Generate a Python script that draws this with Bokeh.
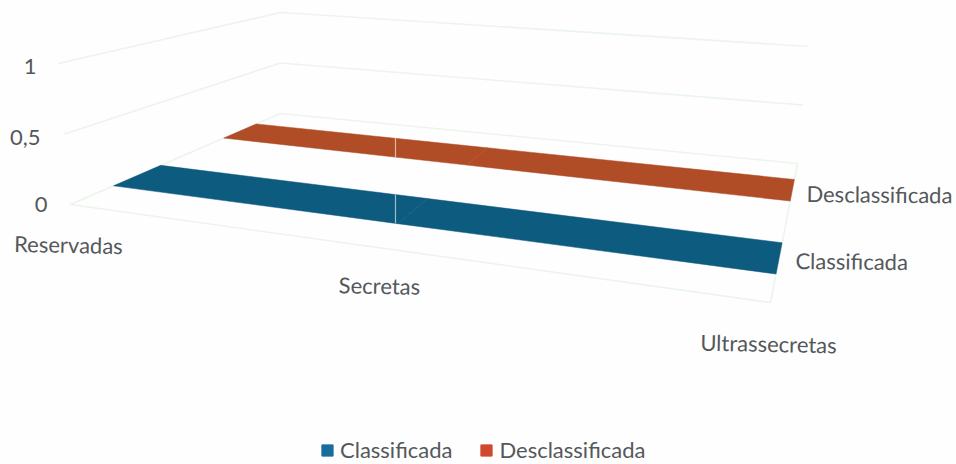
from bokeh.plotting import figure
from bokeh.models import Range1d, Legend, LegendItem
from bokeh.core.properties import value
from bokeh.embed import file_html
from bokeh.resources import INLINE

categories = ["Reservadas", "Secretas", "Ultrassecretas"]
series_names = ["Classificada", "Desclassificada"]
classificada = [0, 0, 0]
desclassificada = [0, 0, 0]
value_ticks = [0, 0.5, 1]
value_tick_labels = ["0", "0,5", "1"]

FONT = value("Lato")
SIZE = "22px"
TXT = "#55585b"
GRID = "#ebf5eb"

# 3D frame -> page pixels (u along categories, v in depth, z height)
C = {(0,0,0):(70,204),(1,0,0):(770,302),(0,1,0):(280,113),(1,1,0):(797,163),
     (0,0,1):(58,63),(1,0,1):(758,170),(0,1,1):(280,12),(1,1,1):(808,46)}
def proj(u, v, z):
    x = y = 0.0
    for (a,b,c),(px,py) in C.items():
        w = (u if a else 1-u)*(v if b else 1-v)*(z if c else 1-z)
        x += w*px; y += w*py
    return x, y
def cat_u(i):
    t = i/(len(categories)-1)
    return t/(t+(1-t)*1.33)

p = figure(width=956, height=464, output_backend="svg", toolbar_location=None,
           x_range=Range1d(0, 956), y_range=Range1d(464, 0),
           min_border=0, outline_line_color=None, background_fill_color="#fefefe",
           border_fill_color="#fefefe")
p.xaxis.visible = False
p.yaxis.visible = False
p.grid.visible = False

# walls and floor grid
for z in value_ticks:
    pts = [proj(0,0,z), proj(0,1,z), proj(1,1,z)]
    p.line([a for a,_ in pts], [b for _,b in pts], line_color=GRID, line_width=1.6)
pts = [proj(0,0,0), proj(1,0,0), proj(1,1,0)]
p.line([a for a,_ in pts], [b for _,b in pts], line_color=GRID, line_width=1.6)

# area series lying on the floor
CREASE_X = 395
bands = [(classificada, 0.205, 0.43, "#0e5b80"),
         (desclassificada, 0.73, 0.885, "#b04c26")]
for vals, v0, v1, shade in bands:
    for i in range(len(categories)-1):
        u0, u1 = cat_u(i), cat_u(i+1)
        q = [proj(u0,v0,vals[i]), proj(u1,v0,vals[i+1]), proj(u1,v1,vals[i+1]), proj(u0,v1,vals[i])]
        p.patch([a for a,_ in q], [b for _,b in q], fill_color=shade, line_color=shade, line_width=0.5)
    # pale vertical crease of the scanned page crossing the band
    ends = []
    for v in (v0, v1):
        xa, ya = proj(0, v, 0)
        xb, yb = proj(1, v, 0)
        ends.append(ya + (yb-ya)*(CREASE_X-xa)/(xb-xa))
    p.line([CREASE_X, CREASE_X], ends, line_color="#ffffff", line_alpha=0.6, line_width=1.2)

# value labels
p.text([47, 40, 36], [204, 137, 66], text=value_tick_labels, text_font=FONT, text_font_size=SIZE,
       text_color=TXT, text_align="right", text_baseline="middle")
# category labels
p.text([68, 379, 768], [244, 285, 343], text=categories, text_font=FONT, text_font_size=SIZE,
       text_color=TXT, text_align="center", text_baseline="middle", angle=-0.02)
# series labels
p.text([795, 806], [260, 193], text=series_names, text_font=FONT, text_font_size=SIZE,
       text_color=TXT, text_align="left", text_baseline="middle", angle=-0.01)

# legend
nan = float("nan")
r1 = p.patch([nan]*3, [nan]*3, fill_color="#1a6c9c", line_color="#1a6c9c")
r2 = p.patch([nan]*3, [nan]*3, fill_color="#d0492f", line_color="#d0492f")
leg = Legend(items=[LegendItem(label=series_names[0], renderers=[r1]),
                    LegendItem(label=series_names[1], renderers=[r2])],
             orientation="horizontal", location=(320, 1), background_fill_alpha=0,
             border_line_color=None, glyph_width=14, glyph_height=14, spacing=27,
             label_standoff=6, label_text_font="Lato", label_text_font_size=SIZE,
             label_text_color=TXT, margin=0, padding=6)
p.add_layout(leg, "center")

open("out.html", "w").write(file_html(p, INLINE))
